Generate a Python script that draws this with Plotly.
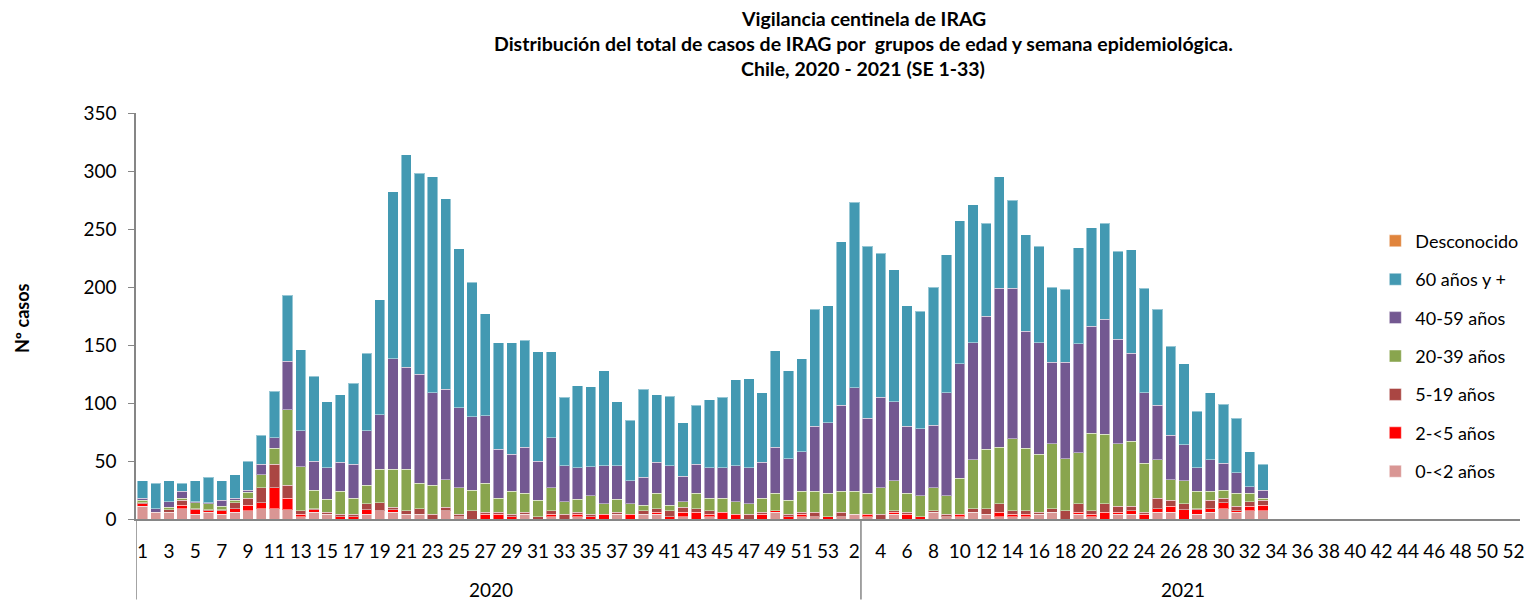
import plotly.graph_objects as go

# Categories: 2020 weeks 1-53, 2021 weeks 1-52
weeks_2020 = list(range(1, 54))
weeks_2021 = list(range(1, 53))
week_labels = [str(w) for w in weeks_2020 + weeks_2021]
# category group sizes for the year axis (as drawn in the original)
year_names = ["2020", "2021"]
year_sizes = [55, 50]

# Values per week (2020 SE1 .. 2021 SE33)
age_0_2 = [11, 6, 6, 9, 4, 6, 4, 6, 7, 9, 9, 8, 2, 6, 4, 0, 0, 4, 7, 6, 4, 4, 0, 7, 2, 0, 0, 0, 0, 4,
           0, 2, 0, 2, 0, 0, 4, 0, 4, 4, 0, 2, 0, 2, 0, 0, 0, 0, 6, 0, 2, 2, 0,
           2, 4, 2, 0, 4, 0, 0, 6, 2, 2, 6, 4, 2, 2, 2, 4, 6, 0, 4, 2, 0, 4, 4, 0, 6, 6, 0, 4, 6, 9, 6, 7, 7]
age_2_5 = [2, 0, 0, 3, 4, 1, 3, 3, 5, 5, 18, 10, 2, 2, 0, 2, 2, 4, 0, 2, 0, 0, 0, 0, 0, 0, 4, 4, 2, 0,
           0, 2, 0, 2, 2, 4, 0, 4, 0, 2, 2, 4, 6, 2, 6, 4, 0, 4, 1, 2, 2, 0, 2,
           0, 0, 2, 0, 2, 4, 2, 0, 0, 2, 0, 0, 4, 2, 2, 0, 0, 0, 2, 2, 6, 2, 3, 4, 3, 5, 8, 4, 3, 5, 1, 4, 5]
age_5_19 = [1, 0, 2, 4, 1, 1, 1, 5, 6, 13, 20, 11, 3, 1, 2, 2, 2, 5, 7, 2, 3, 5, 4, 3, 2, 7, 2, 2, 2, 2,
            2, 3, 4, 2, 2, 0, 2, 0, 3, 3, 5, 4, 3, 3, 0, 0, 4, 2, 0, 2, 2, 4, 0,
            4, 0, 0, 4, 1, 2, 0, 1, 2, 0, 3, 5, 7, 3, 3, 2, 3, 7, 7, 3, 7, 5, 4, 2, 9, 5, 5, 1, 7, 4, 4, 4, 4]
age_20_39 = [2, 0, 2, 2, 5, 5, 3, 2, 5, 11, 14, 65, 38, 16, 11, 20, 14, 16, 29, 33, 36, 22, 25, 24, 23, 18, 25, 12, 20, 16,
             14, 20, 11, 11, 16, 9, 11, 9, 5, 13, 5, 5, 13, 11, 12, 11, 9, 12, 15, 12, 18, 18, 20,
             18, 20, 18, 23, 26, 16, 18, 20, 16, 31, 42, 51, 49, 62, 54, 50, 56, 45, 44, 67, 60, 54, 56, 42, 33, 18, 20, 15, 8, 7, 11, 7, 2]
age_40_59 = [2, 3, 5, 6, 1, 1, 5, 2, 2, 9, 9, 42, 31, 25, 27, 25, 29, 47, 47, 95, 88, 94, 80, 78, 69, 63, 58, 42, 32, 40,
             34, 43, 31, 27, 25, 33, 29, 20, 24, 27, 34, 22, 25, 26, 26, 31, 31, 31, 40, 36, 34, 56, 61,
             74, 89, 65, 78, 68, 58, 58, 54, 89, 99, 101, 115, 137, 130, 101, 96, 70, 83, 94, 92, 99, 90, 76, 61, 47, 38, 31, 20, 27, 23, 18, 6, 7]
age_60_plus = [15, 22, 18, 7, 18, 22, 17, 20, 25, 25, 40, 57, 70, 73, 57, 58, 70, 67, 99, 144, 183, 173, 186, 164, 137, 116, 88, 92, 96, 92,
               94, 74, 59, 71, 69, 82, 55, 52, 76, 58, 60, 46, 51, 59, 61, 74, 77, 60, 83, 76, 80, 101, 101,
               141, 160, 148, 124, 114, 104, 101, 119, 119, 123, 119, 80, 96, 76, 83, 83, 65, 63, 83, 85, 83, 76, 89, 90, 83, 77, 70, 49, 58, 51, 47, 30, 22]
desconocido = [0] * len(age_0_2)

series_names = ["0-<2 años", "2-<5 años", "5-19 años", "20-39 años", "40-59 años", "60 años y +", "Desconocido"]
series_values = [age_0_2, age_2_5, age_5_19, age_20_39, age_40_59, age_60_plus, desconocido]
series_colors = ["#D99694", "#FF0000", "#AA4643", "#89A54E", "#735891", "#4399B2", "#E0843C"]

n_cat = len(week_labels)
x_idx = list(range(n_cat))

fig = go.Figure()
for i, (name, vals, col) in enumerate(zip(series_names, series_values, series_colors)):
    y = [(v if v else None) for v in vals] + [None] * (n_cat - len(vals))
    fig.add_trace(go.Bar(
        x=x_idx, y=y, name=name, legendgroup=name, legendrank=100 - i,
        marker=dict(color=col, line=dict(color="rgba(255,255,255,0.45)", width=1)),
    ))

tickvals = x_idx[::2]
ticktext = week_labels[::2]

axis_col = "#868686"
fnt = "Lato, 'Open Sans', sans-serif"
FS = 19

# page body has an 8px margin; figure sized to fill the 1535x600 window
W, H = 1527, 592
ML, MR, MT, MB = 128, 12, 105, 80.5
fig.update_layout(
    width=W, height=H,
    barmode="stack", bargap=0.22,
    plot_bgcolor="white", paper_bgcolor="white",
    margin=dict(l=ML, r=MR, t=MT, b=MB),
    font=dict(family=fnt, size=FS, color="black"),
    showlegend=True,
    legend=dict(
        traceorder="grouped", tracegroupgap=12,
        x=(1378 - 136) / (W - ML - MR), xanchor="left", y=0.73, yanchor="top",
        font=dict(size=18, family=fnt), bgcolor="rgba(0,0,0,0)",
        itemwidth=30,
    ),
    xaxis=dict(
        range=[-0.5, n_cat - 0.5], tickmode="array", tickvals=tickvals, ticktext=ticktext,
        showline=True, linecolor=axis_col, linewidth=1.5, ticks="", tickangle=0,
        showgrid=False, zeroline=False, ticklabelstandoff=14,
        tickfont=dict(size=FS, family=fnt),
    ),
    yaxis=dict(
        range=[0, 350], dtick=50, showline=True, linecolor=axis_col, linewidth=1.5,
        ticks="outside", ticklen=6, tickcolor=axis_col, showgrid=False, zeroline=False,
        tickfont=dict(size=FS, family=fnt), ticklabelstandoff=8,
    ),
)

plot_h = H - MT - MB
plot_w = W - ML - MR
y0_px = 8 + MT + plot_h  # window pixel of the baseline


def py(px):
    return (y0_px - px) / plot_h


def pxx(px):
    return (px - 136) / plot_w


# Year group separators and labels
bottom = -MB / plot_h
start = -0.5
fig.add_shape(type="line", xref="x", yref="paper", x0=start, x1=start, y0=bottom, y1=0,
              line=dict(color=axis_col, width=1.5))
for name, size in zip(year_names, year_sizes):
    end = start + size
    if end < n_cat - 0.5:
        fig.add_shape(type="line", xref="x", yref="paper", x0=end, x1=end, y0=bottom, y1=0,
                      line=dict(color=axis_col, width=1.5))
    fig.add_annotation(x=start + size / 2 - 0.6, xref="x", y=py(590), yref="paper",
                       text=name, showarrow=False, font=dict(size=FS, family=fnt),
                       xanchor="center", yanchor="middle")
    start = end

# Titles
title_lines = ["Vigilancia centinela de IRAG",
               "Distribución del total de casos de IRAG por  grupos de edad y semana epidemiológica.",
               "Chile, 2020 - 2021 (SE 1-33)"]
for line, ypx in zip(title_lines, [18, 43, 68]):
    fig.add_annotation(x=pxx(865), xref="paper", y=py(ypx), yref="paper",
                       text="<b>" + line.replace("  ", "&nbsp; ") + "</b>", showarrow=False,
                       font=dict(size=19.5, family=fnt), xanchor="center", yanchor="middle",
                       borderpad=0)

fig.add_annotation(x=pxx(22), xref="paper", y=py(318), yref="paper",
                   text="<b>Nº casos</b>", textangle=-90, showarrow=False,
                   font=dict(size=18, family=fnt), xanchor="center", yanchor="middle")

fig.write_html("out.html")
